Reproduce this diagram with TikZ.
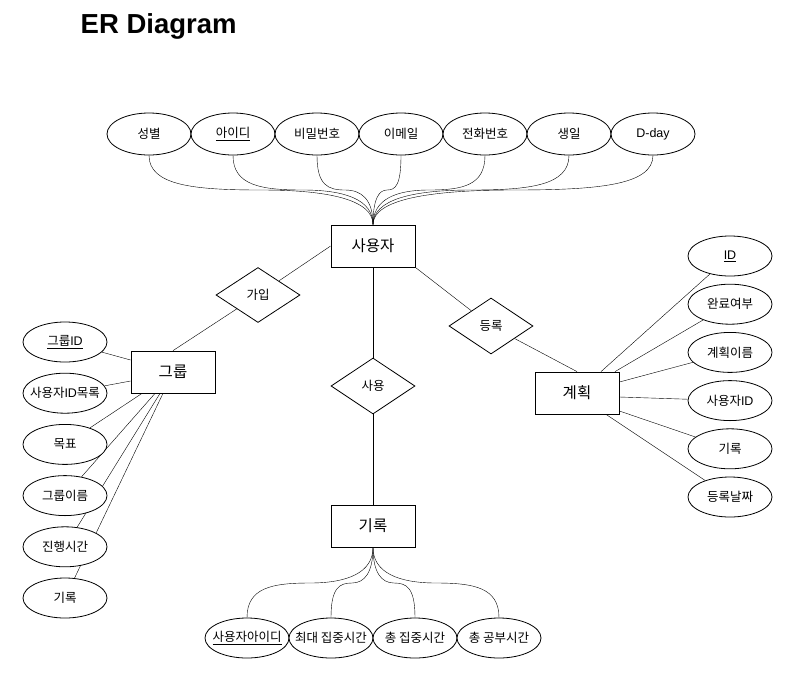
\documentclass[tikz,border=0pt]{standalone}
\usepackage{fontspec}
\setmainfont{Noto Sans CJK KR}
\newfontfamily\latinfont{Liberation Sans}
\newcommand{\en}[1]{{\latinfont #1}}
\usetikzlibrary{shapes.geometric,backgrounds}

\begin{document}
\begin{tikzpicture}[x=1pt, y=-1pt, line width=0.8pt,
  every node/.style={font=\fontsize{12.5}{15}\selectfont},
  entity/.style={draw, fill=white, minimum width=84pt, minimum height=42pt,
    inner sep=0pt, font=\fontsize{15.5}{18}\selectfont},
  relation/.style={draw, fill=white, diamond, minimum width=84pt,
    minimum height=56pt, inner sep=0pt},
  attr/.style={draw, fill=white, ellipse, minimum width=84pt,
    minimum height=40pt, inner xsep=-14pt, inner ysep=0pt}]
  \useasboundingbox (0,0) rectangle (792,673);

  \node[anchor=base west, font=\latinfont\bfseries\fontsize{27.5}{32}\selectfont]
    (title) at (77,33) {ER Diagram};

  % entities
  \node[entity] (user)  at (373,246) {사용자};
  \node[entity] (group) at (173,372) {그룹};
  \node[entity] (plan)  at (577,393) {계획};
  \node[entity] (rec)   at (373,526) {기록};

  % relations
  \node[relation, minimum height=55pt] (join) at (258,295) {가입};
  \node[relation] (use) at (373,386) {사용};
  \node[relation] (reg) at (491,326) {등록};

  % attributes
  \foreach \n/\txt [count=\i from 0] in {gender/성별, uid/\underline{아이디},
      pw/비밀번호, mail/이메일, phone/전화번호, birth/생일, dday/\en{D-day}}
    \node[attr, minimum height=42pt] (\n) at ({149+84*\i},134) {\txt};
  \foreach \n/\txt [count=\i from 0] in {gid/\underline{그룹\en{ID}},
      members/사용자\en{ID}목록, goal/목표, gname/그룹이름, gtime/진행시간, glog/기록}
    \node[attr] (\n) at (65,{342+51.2*\i}) {\txt};
  \foreach \n/\txt [count=\i from 0] in {pid/\underline{\en{ID}}, done/완료여부,
      pname/계획이름, puid/사용자\en{ID}, plog/기록, pdate/등록날짜}
    \node[attr] (\n) at (730,{256+48.2*\i}) {\txt};
  \foreach \n/\txt [count=\i from 0] in {ruid/\underline{사용자아이디},
      focusmax/최대 집중시간, focussum/총 집중시간, study/총 공부시간}
    \node[attr] (\n) at ({247+84*\i},638) {\txt};

  \begin{scope}[on background layer]
    % curved links
    \foreach \n/\x in {gender/149, uid/233, pw/317, mail/401, phone/485,
        birth/569, dday/653}
      \draw (\n.south) .. controls +(0,30) and ({\x+0.2*(373-\x)},190)
        .. ({(\x+373)/2},190)
        .. controls ({373-0.2*(373-\x)},190) and +(0,-25) .. (user.north);
    \foreach \n/\x in {ruid/247, focusmax/331, focussum/415, study/499}
      \draw (rec.south) .. controls +(0,25) and ({373+0.2*(\x-373)},583)
        .. ({(\x+373)/2},583)
        .. controls ({\x-0.2*(\x-373)},583) and +(0,-30) .. (\n.north);

    % relations
    \draw (user.west) -- (join);
    \draw (join) -- (group.north);
    \draw (user.south) -- (use);
    \draw (use) -- (rec.north);
    \draw (user.south east) -- (reg);
    \draw (reg) -- (plan.north);

    % group
    \draw ([yshift=12pt]group.west) -- (gid);
    \draw ([yshift=-9pt]group.west) -- (members);
    \draw ([xshift=-31pt]group.south) -- (goal);
    \draw ([xshift=-18pt]group.south) -- (gname);
    \draw ([xshift=-13pt]group.south) -- (gtime);
    \draw ([xshift=-10pt]group.south) -- (glog);

    % plan
    \draw ([xshift=24pt]plan.north) -- (pid);
    \draw ([xshift=38pt]plan.north) -- (done);
    \draw ([yshift=11pt]plan.east) -- (pname);
    \draw ([yshift=-4pt]plan.east) -- (puid);
    \draw ([yshift=-18pt]plan.east) -- (plog);
    \draw ([xshift=29pt]plan.south) -- (pdate);
  \end{scope}
\end{tikzpicture}
\end{document}
